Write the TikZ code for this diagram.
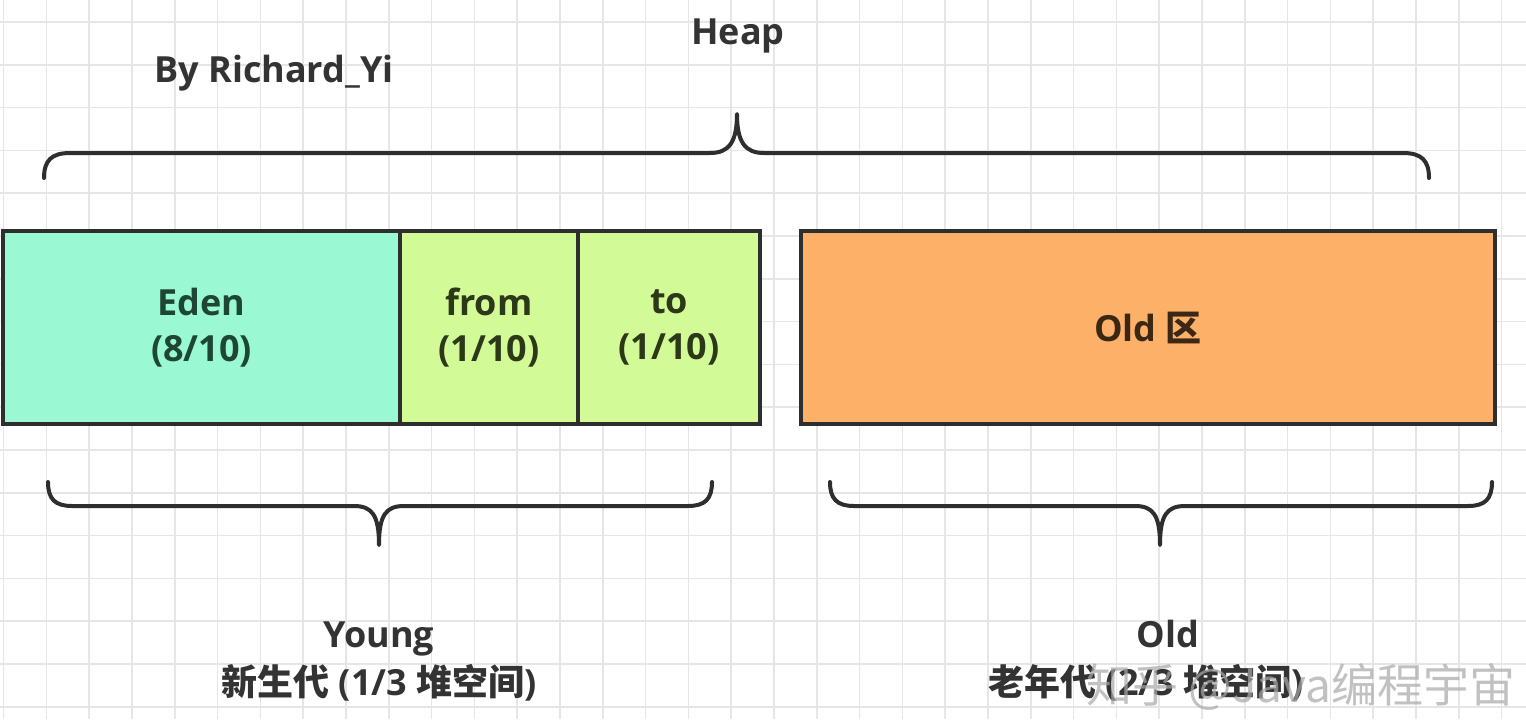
\documentclass[tikz,border=0pt]{standalone}
\usepackage{fontspec}
\setmainfont{Open Sans}
\newfontfamily\cjk{Noto Sans CJK SC}
\definecolor{gridc}{HTML}{E6E6E6}
\definecolor{edgec}{HTML}{2E2E2E}
\definecolor{edenc}{HTML}{9AF8D2}
\definecolor{survc}{HTML}{D2FA96}
\definecolor{oldc}{HTML}{FDB068}
\definecolor{textc}{HTML}{333333}
\definecolor{edent}{HTML}{1E4634}
\definecolor{survt}{HTML}{2C3818}
\definecolor{oldt}{HTML}{3A2814}
\definecolor{wmc}{HTML}{A8A8A8}
\tikzset{
  gridline/.style={draw=gridc, line width=0.8pt},
  region/.style={draw=edgec, line width=2pt, inner sep=0pt, minimum height=96.5pt, align=center,
    font=\bfseries\fontsize{18}{23}\selectfont},
  brace/.style={draw=edgec, line width=2pt, line cap=round, line join=round},
  lbl/.style={font=\bfseries\fontsize{18}{24}\selectfont, align=center, text=textc},
  wm/.style={font=\cjk\fontsize{23}{26}\selectfont, text=wmc, opacity=0.7, anchor=west, inner sep=0pt},
}
\begin{document}
\begin{tikzpicture}[x=0.5pt,y=-0.5pt]
\useasboundingbox (0,0) rectangle (1526,719);
\fill[white] (0,0) rectangle (1526,719);
% grid
\foreach \i in {0,...,35} {\draw[gridline] ({3.5+42.8*\i},0) -- ({3.5+42.8*\i},719);}
\foreach \j in {0,...,16} {\draw[gridline] (0,{22+42.8*\j}) -- (1526,{22+42.8*\j});}

% regions
\node[region, fill=edenc, text=edent, minimum width=198.5pt] (eden) at (201.5,327.5) {Eden\\(8/10)};
\node[region, fill=survc, text=survt, minimum width=89pt] (from) at (489,327.5) {from\\(1/10)};
\node[region, fill=survc, text=survt, minimum width=91pt] (to) at (669,327.5) {to\\(1/10)};
\node[region, fill=oldc, text=oldt, minimum width=347pt] (old) at (1148,327.5) {Old {\cjk 区}};

% braces
\draw[brace] (44,178) .. controls (44,160) and (52,153) .. (70,153) -- (710,153)
  .. controls (729,153) and (737,142) .. (737,114)
  .. controls (737,142) and (745,153) .. (764,153) -- (1403,153)
  .. controls (1421,153) and (1429,160) .. (1429,178);
\draw[brace] (48,482) .. controls (48,499) and (55,506) .. (72,506) -- (354,506)
  .. controls (372,506) and (379,515) .. (379,545)
  .. controls (379,515) and (386,506) .. (404,506) -- (688,506)
  .. controls (705,506) and (712,499) .. (712,482);
\draw[brace] (830,482) .. controls (830,499) and (837,506) .. (854,506) -- (1135,506)
  .. controls (1153,506) and (1160,515) .. (1160,545)
  .. controls (1160,515) and (1167,506) .. (1185,506) -- (1468,506)
  .. controls (1485,506) and (1492,499) .. (1492,482);

% labels
\node[lbl] (heap) at (738,36) {Heap};
\node[lbl] (author) at (274,73) {By Richard\_Yi};
\node[lbl] (young) at (379,661) {Young\\{\cjk 新生代} (1/3 {\cjk 堆空间})};
\node[lbl] (oldgen) at (1146,661) {\hspace*{22pt}Old\\{\cjk 老年代} (2/3 {\cjk 堆空间})};
\node[wm] (mark) at (1086,687) {知乎 @Java编程宇宙};
\end{tikzpicture}
\end{document}
